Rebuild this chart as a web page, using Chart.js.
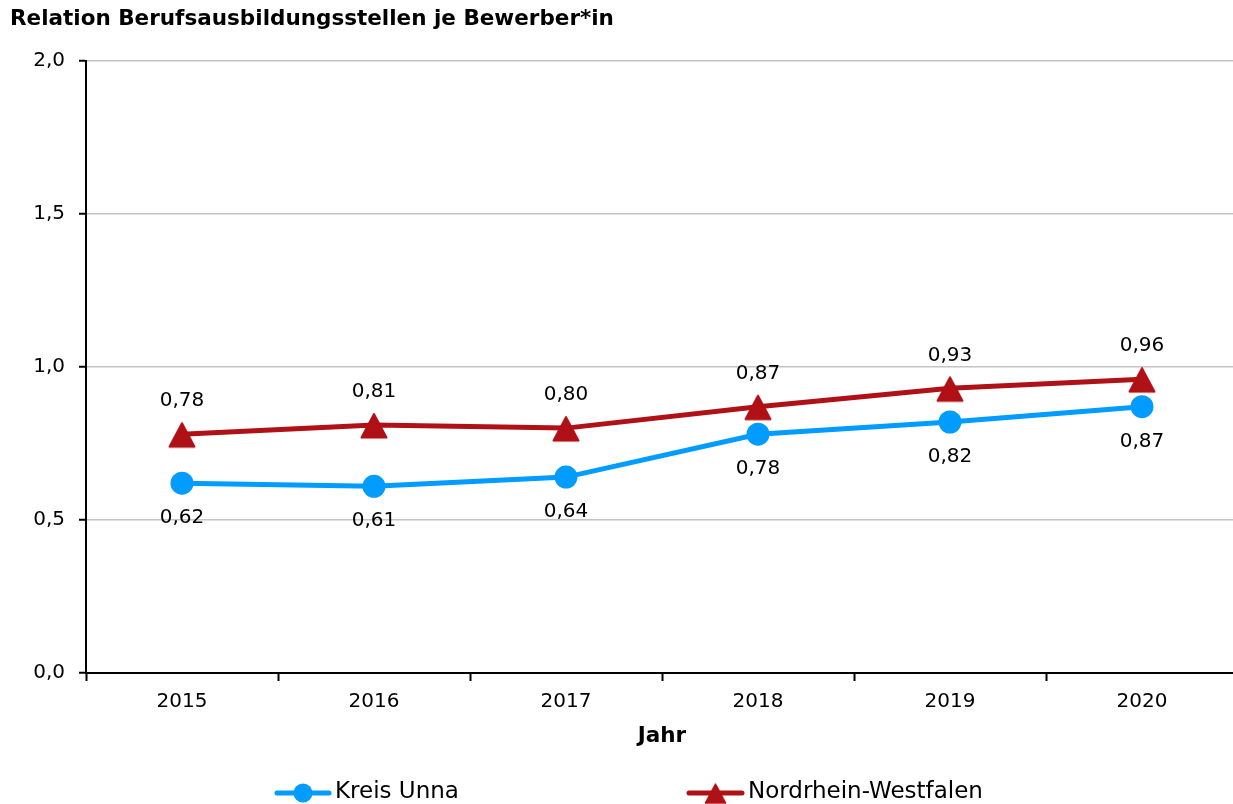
<!DOCTYPE html>
<html>
<head>
<meta charset="utf-8">
<script src="https://cdn.jsdelivr.net/npm/chart.js@4"></script>
<style>
html, body { margin: 0; padding: 0; background: #fff; overflow: hidden; }
#wrap { width: 1233px; height: 804px; overflow: hidden; }
canvas { display: block; }
</style>
</head>
<body>
<!-- canvas a bit wider than the window: the plot area runs past the right edge in the original -->
<div id="wrap"><canvas id="chart" width="1238" height="804"></canvas></div>
<script>
const years = ['2015', '2016', '2017', '2018', '2019', '2020'];
const kreisUnna = [0.62, 0.61, 0.64, 0.78, 0.82, 0.87];
const nrw = [0.78, 0.81, 0.80, 0.87, 0.93, 0.96];
const seriesNames = ['Kreis Unna', 'Nordrhein-Westfalen'];
const chartTitle = 'Relation Berufsausbildungsstellen je Bewerber*in';
const axisTitleX = 'Jahr';

const BLUE = '#009cff';
const RED = '#b01116';
const FONT = '"DejaVu Sans", Verdana, sans-serif';

function fmt(v, d) {
    return v.toFixed(d).replace('.', ',');
}

// triangle marker, drawn a bit lower than the point like in the original
function makeTriangle(color) {
    const c = document.createElement('canvas');
    c.width = 30;
    c.height = 30;
    const g = c.getContext('2d');
    g.fillStyle = color;
    g.strokeStyle = color;
    g.lineWidth = 2;
    g.lineJoin = 'round';
    g.beginPath();
    g.moveTo(15, 4);
    g.lineTo(27.5, 27.5);
    g.lineTo(2.5, 27.5);
    g.closePath();
    g.fill();
    g.stroke();
    return c;
}
const triangle = makeTriangle(RED);

const valueLabels = {
    id: 'valueLabels',
    afterDatasetsDraw(chart) {
        const ctx = chart.ctx;
        ctx.save();
        ctx.font = '20px ' + FONT;
        ctx.fillStyle = '#000';
        ctx.textAlign = 'center';
        ctx.textBaseline = 'middle';
        chart.data.datasets.forEach((ds, i) => {
            chart.getDatasetMeta(i).data.forEach((pt, j) => {
                const dy = ds.labelBelow ? 35 : -33;
                ctx.fillText(fmt(ds.data[j], 2), pt.x, pt.y + dy);
            });
        });
        ctx.restore();
    }
};

const legendBottom = {
    id: 'legendBottom',
    afterDraw(chart) {
        const ctx = chart.ctx;
        const y = 793;
        const slots = [{ x0: 277, x1: 329, tx: 335 }, { x0: 689, x1: 742, tx: 748 }];
        ctx.save();
        chart.data.datasets.forEach((ds, i) => {
            const s = slots[i];
            ctx.strokeStyle = ds.borderColor;
            ctx.lineWidth = 5;
            ctx.lineCap = 'round';
            ctx.beginPath();
            ctx.moveTo(s.x0, y);
            ctx.lineTo(s.x1, y);
            ctx.stroke();
            const cx = (s.x0 + s.x1) / 2;
            if (ds.pointStyle === 'circle') {
                ctx.fillStyle = ds.pointBackgroundColor;
                ctx.beginPath();
                ctx.arc(cx, y, 9.5, 0, Math.PI * 2);
                ctx.fill();
            } else {
                ctx.drawImage(ds.pointStyle, cx - 12, y - 12, 24, 24);
            }
            ctx.fillStyle = '#000';
            ctx.font = '23px ' + FONT;
            ctx.textAlign = 'left';
            ctx.textBaseline = 'middle';
            ctx.fillText(ds.label, s.tx, y - 1);
        });
        ctx.restore();
    }
};

new Chart(document.getElementById('chart'), {
    type: 'line',
    data: {
        labels: years,
        datasets: [{
            label: seriesNames[0],
            data: kreisUnna,
            borderColor: BLUE,
            backgroundColor: BLUE,
            pointBackgroundColor: BLUE,
            pointBorderWidth: 0,
            pointStyle: 'circle',
            pointRadius: 11.5,
            borderWidth: 5,
            tension: 0,
            labelBelow: true
        }, {
            label: seriesNames[1],
            data: nrw,
            borderColor: RED,
            backgroundColor: RED,
            pointBackgroundColor: RED,
            pointStyle: triangle,
            pointRadius: 12,
            borderWidth: 5,
            tension: 0,
            labelBelow: false
        }]
    },
    options: {
        responsive: false,
        animation: false,
        events: [],
        layout: { autoPadding: false, padding: { left: 10, right: 0, top: 0, bottom: 49 } },
        plugins: {
            legend: { display: false },
            tooltip: { enabled: false },
            title: {
                display: true,
                text: chartTitle,
                align: 'start',
                color: '#000',
                font: { family: FONT, size: 21.5, weight: 'bold' },
                padding: { top: 7, bottom: 28 }
            }
        },
        scales: {
            x: {
                offset: true,
                afterFit(scale) {
                    scale.height = 82;
                    scale.paddingLeft = 0;
                    scale.paddingRight = 0;
                },
                grid: {
                    offset: true,
                    drawOnChartArea: false,
                    tickLength: 8,
                    tickColor: '#000',
                    tickWidth: 2
                },
                border: { color: '#000', width: 2 },
                ticks: { color: '#000', font: { family: FONT, size: 20 }, padding: 9 },
                title: {
                    display: true,
                    text: axisTitleX,
                    color: '#000',
                    font: { family: FONT, size: 21.5, weight: 'bold' },
                    padding: { top: 0, bottom: 6 }
                }
            },
            y: {
                min: 0,
                max: 2,
                afterFit(scale) { scale.width = 76; },
                grid: {
                    color: '#c4c4c4',
                    lineWidth: 1.5,
                    tickLength: 7,
                    tickColor: '#000',
                    tickWidth: 2
                },
                border: { color: '#000', width: 2 },
                ticks: {
                    stepSize: 0.5,
                    color: '#000',
                    font: { family: FONT, size: 20 },
                    padding: 14,
                    callback: v => fmt(v, 1)
                }
            }
        }
    },
    plugins: [valueLabels, legendBottom]
});
</script>
</body>
</html>
